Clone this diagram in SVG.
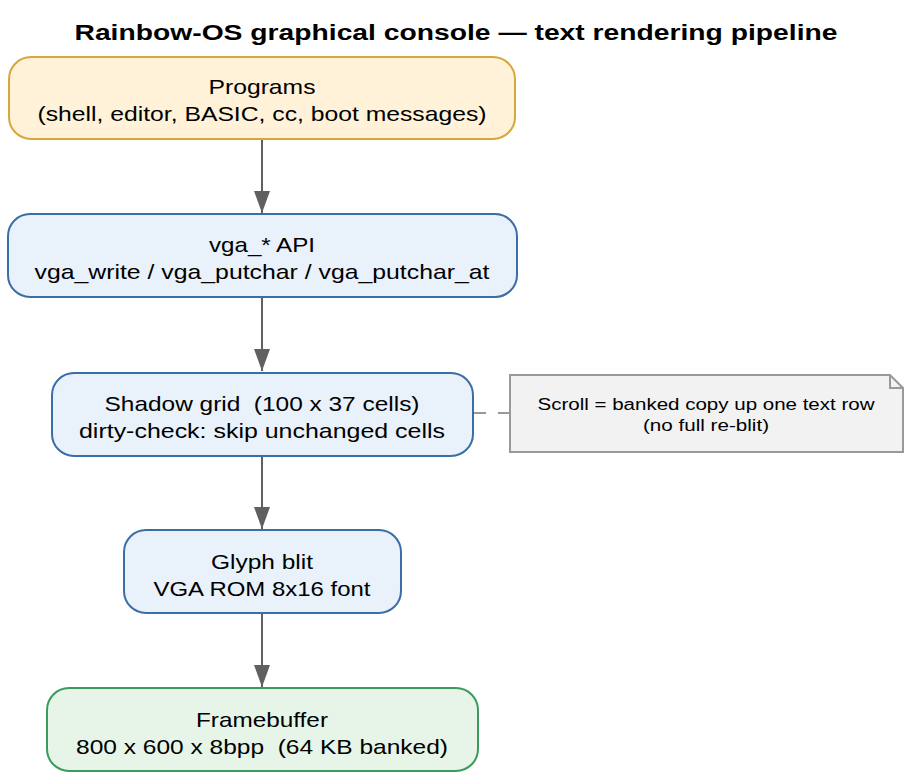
<svg xmlns="http://www.w3.org/2000/svg" width="911" height="780" viewBox="0 0 911 780">
<defs>
<style>
text{font-family:"Liberation Sans",Arial,Helvetica,sans-serif;fill:#000;text-anchor:middle}
.t{font-size:22px;font-weight:bold}
.n{font-size:21px}
.s{font-size:16px}
.prog{fill:#fff2d8;stroke:#d6a73a;stroke-width:2}
.blue{fill:#e9f1fb;stroke:#3b6ea6;stroke-width:2}
.green{fill:#e6f5e8;stroke:#3c9a5c;stroke-width:2}
.note{fill:#f2f2f2;stroke:#999;stroke-width:2}
.edge{stroke:#606060;stroke-width:2;fill:none}
</style>
<marker id="ah" markerUnits="userSpaceOnUse" markerWidth="24" markerHeight="18" refX="22" refY="9" orient="auto" viewBox="0 0 24 18">
<path d="M0,1 L22,9 L0,17 Z" fill="#606060"/>
</marker>
</defs>
<rect width="911" height="780" fill="#fff"/>
<text class="t" x="456" y="40" textLength="763" lengthAdjust="spacingAndGlyphs">Rainbow-OS graphical console — text rendering pipeline</text>

<g id="connectors">
<line class="edge" x1="262" y1="140" x2="262" y2="213" marker-end="url(#ah)"/>
<line class="edge" x1="262" y1="298" x2="262" y2="371" marker-end="url(#ah)"/>
<line class="edge" x1="262" y1="457" x2="262" y2="529" marker-end="url(#ah)"/>
<line class="edge" x1="262" y1="614" x2="262" y2="687" marker-end="url(#ah)"/>
<line x1="474" y1="413" x2="509" y2="413" stroke="#999" stroke-width="2" stroke-dasharray="12,12"/>
</g>

<g id="programs">
<rect class="prog" x="9" y="57" width="506" height="82" rx="22"/>
<text class="n" x="262" y="94" textLength="107" lengthAdjust="spacingAndGlyphs">Programs</text>
<text class="n" x="262" y="121" textLength="449" lengthAdjust="spacingAndGlyphs">(shell, editor, BASIC, cc, boot messages)</text>
</g>

<g id="vga_api">
<rect class="blue" x="8" y="214" width="509" height="83" rx="22"/>
<text class="n" x="262" y="252" textLength="106" lengthAdjust="spacingAndGlyphs">vga_* API</text>
<text class="n" x="262" y="279" textLength="455" lengthAdjust="spacingAndGlyphs">vga_write / vga_putchar / vga_putchar_at</text>
</g>

<g id="shadow_grid">
<rect class="blue" x="52" y="373" width="421" height="83" rx="22"/>
<text class="n" x="262" y="411" textLength="315" lengthAdjust="spacingAndGlyphs" xml:space="preserve">Shadow grid  (100 x 37 cells)</text>
<text class="n" x="262" y="438" textLength="366" lengthAdjust="spacingAndGlyphs">dirty-check: skip unchanged cells</text>
</g>

<g id="glyph_blit">
<rect class="blue" x="124" y="530" width="277" height="83" rx="22"/>
<text class="n" x="262" y="569" textLength="102" lengthAdjust="spacingAndGlyphs">Glyph blit</text>
<text class="n" x="262" y="596" textLength="217" lengthAdjust="spacingAndGlyphs">VGA ROM 8x16 font</text>
</g>

<g id="framebuffer">
<rect class="green" x="47" y="688" width="431" height="83" rx="22"/>
<text class="n" x="262" y="727" textLength="132" lengthAdjust="spacingAndGlyphs">Framebuffer</text>
<text class="n" x="262" y="754" textLength="372" lengthAdjust="spacingAndGlyphs" xml:space="preserve">800 x 600 x 8bpp  (64 KB banked)</text>
</g>

<g id="note">
<path class="note" d="M510,375 L890,375 L903,388 L903,452 L510,452 Z"/>
<path d="M890,375 L890,388 L903,388" fill="none" stroke="#999" stroke-width="2"/>
<text class="s" x="706" y="410" textLength="337" lengthAdjust="spacingAndGlyphs">Scroll = banked copy up one text row</text>
<text class="s" x="706" y="431" textLength="126" lengthAdjust="spacingAndGlyphs">(no full re-blit)</text>
</g>
</svg>
